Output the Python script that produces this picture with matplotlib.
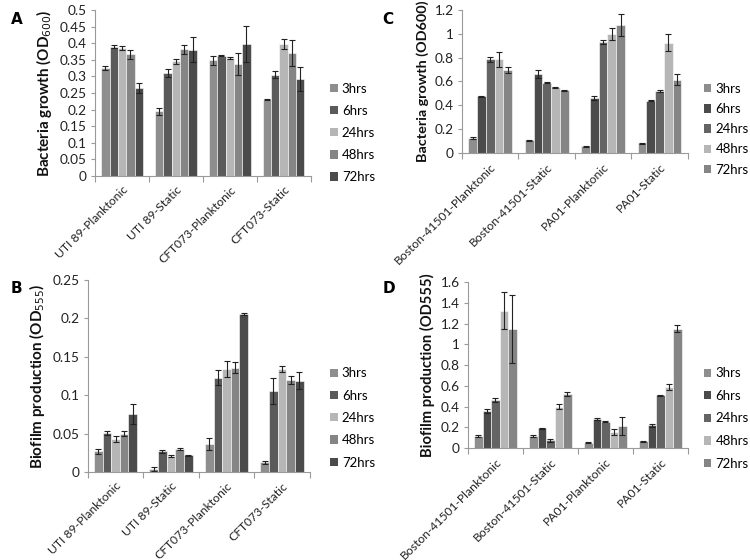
import numpy as np
import matplotlib
matplotlib.use("Agg")
import matplotlib.pyplot as plt
from matplotlib.patches import Patch

plt.rcParams['font.family'] = ['Lato', 'DejaVu Sans']

series = ['3hrs', '6hrs', '24hrs', '48hrs', '72hrs']

cats_ab = ['UTI 89-Planktonic', 'UTI 89-Static', 'CFT073-Planktonic', 'CFT073-Static']
cats_cd = ['Boston-41501-Planktonic', 'Boston-41501-Static', 'PA01-Planktonic', 'PA01-Static']

# Panel A: bacteria growth (OD600)
a_vals = [[0.325, 0.195, 0.348, 0.230],
          [0.390, 0.310, 0.362, 0.305],
          [0.387, 0.345, 0.355, 0.398],
          [0.367, 0.382, 0.338, 0.370],
          [0.265, 0.380, 0.398, 0.292]]
a_err = [[0.006, 0.011, 0.013, 0.002],
         [0.004, 0.012, 0.002, 0.011],
         [0.006, 0.008, 0.002, 0.015],
         [0.014, 0.014, 0.033, 0.040],
         [0.014, 0.038, 0.055, 0.035]]

# Panel B: biofilm production (OD555)
b_vals = [[0.027, 0.004, 0.037, 0.013],
          [0.051, 0.027, 0.123, 0.106],
          [0.043, 0.021, 0.134, 0.134],
          [0.050, 0.030, 0.136, 0.120],
          [0.076, 0.022, 0.206, 0.119]]
b_err = [[0.003, 0.002, 0.008, 0.002],
         [0.003, 0.002, 0.010, 0.017],
         [0.004, 0.001, 0.010, 0.004],
         [0.003, 0.001, 0.007, 0.005],
         [0.013, 0.0005, 0.001, 0.011]]

# Panel C: bacteria growth (OD600)
c_vals = [[0.125, 0.105, 0.055, 0.080],
          [0.475, 0.665, 0.460, 0.440],
          [0.785, 0.590, 0.930, 0.520],
          [0.785, 0.550, 1.000, 0.925],
          [0.700, 0.525, 1.075, 0.615]]
c_err = [[0.005, 0.005, 0.005, 0.005],
         [0.005, 0.035, 0.015, 0.005],
         [0.020, 0.005, 0.015, 0.012],
         [0.060, 0.005, 0.050, 0.070],
         [0.025, 0.005, 0.095, 0.045]]

# Panel D: biofilm production (OD555)
d_vals = [[0.120, 0.120, 0.050, 0.065],
          [0.355, 0.190, 0.280, 0.220],
          [0.460, 0.075, 0.255, 0.510],
          [1.325, 0.400, 0.155, 0.590],
          [1.150, 0.525, 0.210, 1.150]]
d_err = [[0.010, 0.010, 0.005, 0.005],
         [0.020, 0.005, 0.005, 0.015],
         [0.020, 0.015, 0.005, 0.005],
         [0.180, 0.025, 0.030, 0.030],
         [0.330, 0.020, 0.085, 0.035]]

colors_ab = ['#8e8e8e', '#5a5a5a', '#b6b6b6', '#858585', '#4b4b4b']
colors_cd = ['#8e8e8e', '#4b4b4b', '#646464', '#b6b6b6', '#858585']

fig = plt.figure(figsize=(7.5, 5.6), dpi=100)

panels = [
    dict(rect=[0.127, 0.686, 0.287, 0.296], cats=cats_ab, vals=a_vals, err=a_err,
         colors=colors_ab, ymax=0.5, step=0.05,
         ylabel='Bacteria growth (OD$_{600}$)', ylfs=11.0, letter='A', lx=0.014, ly=0.978,
         leg=(0.44, 0.852), legsp=0.76),
    dict(rect=[0.616, 0.727, 0.301, 0.255], cats=cats_cd, vals=c_vals, err=c_err,
         colors=colors_cd, ymax=1.2, step=0.2,
         ylabel='Bacteria growth (OD600)', ylfs=10.4, letter='C', lx=0.510, ly=0.978,
         leg=(0.938, 0.852), legsp=0.62),
    dict(rect=[0.117, 0.157, 0.296, 0.343], cats=cats_ab, vals=b_vals, err=b_err,
         colors=colors_ab, ymax=0.25, step=0.05,
         ylabel='Biofilm production (OD$_{555}$)', ylfs=11.0, letter='B', lx=0.014, ly=0.498,
         leg=(0.44, 0.344), legsp=0.78),
    dict(rect=[0.624, 0.200, 0.293, 0.296], cats=cats_cd, vals=d_vals, err=d_err,
         colors=colors_cd, ymax=1.6, step=0.2,
         ylabel='Biofilm production (OD555)', ylfs=10.6, letter='D', lx=0.510, ly=0.498,
         leg=(0.938, 0.344), legsp=0.8),
]

for p in panels:
    ax = fig.add_axes(p['rect'])
    n = len(p['cats'])
    x = np.arange(n)
    w = 0.155
    for i, s in enumerate(series):
        off = (i - 2) * w
        ax.bar(x + off, p['vals'][i], width=w, color=p['colors'][i],
               edgecolor='white', linewidth=0.4,
               yerr=p['err'][i], capsize=2.2,
               error_kw=dict(ecolor='#222222', elinewidth=0.8, capthick=0.8),
               label=s)
    ax.set_xlim(-0.5, n - 0.5)
    ax.set_ylim(0, p['ymax'])
    ticks = np.arange(0, p['ymax'] + p['step'] / 2, p['step'])
    ax.set_yticks(ticks)
    ax.set_yticklabels(['{:g}'.format(round(t, 3)) for t in ticks], fontsize=9.8, color='#222222')
    ax.set_xticks(x)
    ax.set_xticklabels(p['cats'], rotation=45, ha='right', rotation_mode='anchor',
                       fontsize=8.7, color='#222222')
    ax.tick_params(axis='x', length=0, pad=6)
    ax.set_xticks(np.arange(-0.5, n + 0.5, 1), minor=True)
    ax.tick_params(axis='x', which='minor', length=4, color='#9a9a9a', width=0.8)
    ax.tick_params(axis='y', length=3, color='#9a9a9a', width=0.8, pad=3)
    for sp in ['top', 'right']:
        ax.spines[sp].set_visible(False)
    for sp in ['left', 'bottom']:
        ax.spines[sp].set_color('#9a9a9a')
        ax.spines[sp].set_linewidth(0.8)
    ax.set_ylabel(p['ylabel'], fontsize=p['ylfs'], fontweight='bold', color='#111111', labelpad=4)
    fig.text(p['lx'], p['ly'], p['letter'], fontsize=11, fontweight='bold',
             family=['Liberation Sans Narrow', 'DejaVu Sans'], va='top', ha='left')
    handles = [Patch(facecolor=c, edgecolor='none') for c in p['colors']]
    fig.legend(handles, series, loc='upper left', bbox_to_anchor=p['leg'],
               frameon=False, fontsize=9.5, handlelength=0.6, handleheight=0.6,
               handletextpad=0.3, labelspacing=p['legsp'], borderaxespad=0,
               borderpad=0)

fig.savefig('out.png', dpi=100, facecolor='white')
